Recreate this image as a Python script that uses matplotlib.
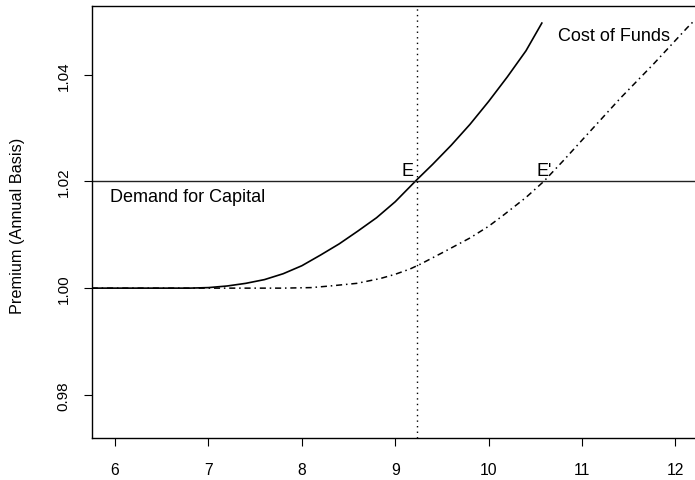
import matplotlib
matplotlib.use('Agg')
import matplotlib.pyplot as plt

plt.rcParams['font.family'] = ['Liberation Sans', 'DejaVu Sans']

# Cost of Funds (original, solid)
cost_x = [5.75, 6.5, 6.8, 7.0, 7.2, 7.4, 7.6, 7.8, 8.0, 8.2, 8.4, 8.6, 8.8, 9.0,
          9.23, 9.4, 9.6, 9.8, 10.0, 10.2, 10.4, 10.57]
cost_y = [1.0, 1.0, 1.0, 1.0001, 1.0004, 1.0009, 1.0016, 1.0027, 1.0042, 1.0062,
          1.0083, 1.0107, 1.0132, 1.0162, 1.0203, 1.0232, 1.0268, 1.0307, 1.0350,
          1.0396, 1.0445, 1.0497]

# Shifted Cost of Funds (dash-dot)
shift_x = [5.75, 7.0, 7.8, 8.1, 8.3, 8.59, 8.84, 9.0, 9.16, 9.27, 9.5, 9.8, 10.0,
           10.16, 10.4, 10.59, 10.8, 11.05, 11.41, 11.77, 12.125, 12.21]
shift_y = [1.0, 1.0, 1.0, 1.0001, 1.0004, 1.0009, 1.0018, 1.0026, 1.0036, 1.0045,
           1.0066, 1.0094, 1.0116, 1.0137, 1.0170, 1.0200, 1.0239, 1.0287, 1.0356,
           1.0421, 1.0488, 1.0503]

demand_level = 1.02
equilibrium_x = 9.23

x_ticks = [6, 7, 8, 9, 10, 11, 12]
x_tick_labels = ['6', '7', '8', '9', '10', '11', '12']
y_ticks = [0.98, 1.00, 1.02, 1.04]
y_tick_labels = ['0.98', '1.00', '1.02', '1.04']

W, H = 695, 481
fig = plt.figure(figsize=(W / 100, H / 100), dpi=100)
ax = fig.add_axes([92 / W, (H - 439) / H, (W - 92) / W, (439 - 7) / H])

ax.plot(cost_x, cost_y, color='black', lw=1.2, solid_joinstyle='round')
ax.plot(shift_x, shift_y, color='black', lw=1.1, linestyle=(0, (4, 2.5, 1, 2.5)))
ax.axhline(demand_level, color='#222222', lw=1.0)
ax.axvline(equilibrium_x, color='black', lw=1.0, linestyle=(0, (1, 3)))

ax.set_xlim(5.753, 12.21)
ax.set_ylim(0.9719, 1.0529)

ax.set_xticks(x_ticks)
ax.set_xticklabels(x_tick_labels, fontsize=11.3)
ax.set_yticks(y_ticks)
ax.set_yticklabels(y_tick_labels, fontsize=11, rotation=90, va='center')

ax.tick_params(axis='both', direction='out', length=5.5, width=0.8, color='black')
ax.tick_params(axis='x', pad=12)
ax.tick_params(axis='y', pad=10)

for side in ['left', 'bottom', 'top']:
    ax.spines[side].set_linewidth(1.0)
    ax.spines[side].set_color('black')
ax.spines['right'].set_visible(False)

ax.text(5.946, 1.0163, 'Demand for Capital', fontsize=13, ha='left', va='baseline')
ax.text(9.064, 1.0212, 'E', fontsize=13, ha='left', va='baseline')
ax.text(10.508, 1.0212, "E'", fontsize=13, ha='left', va='baseline')
ax.text(10.743, 1.04656, 'Cost of Funds', fontsize=13, ha='left', va='baseline')

fig.text(18 / W, 1 - 226 / H, 'Premium (Annual Basis)', rotation=90,
         ha='center', va='center', fontsize=11.7)

fig.savefig('out.png', dpi=100)
